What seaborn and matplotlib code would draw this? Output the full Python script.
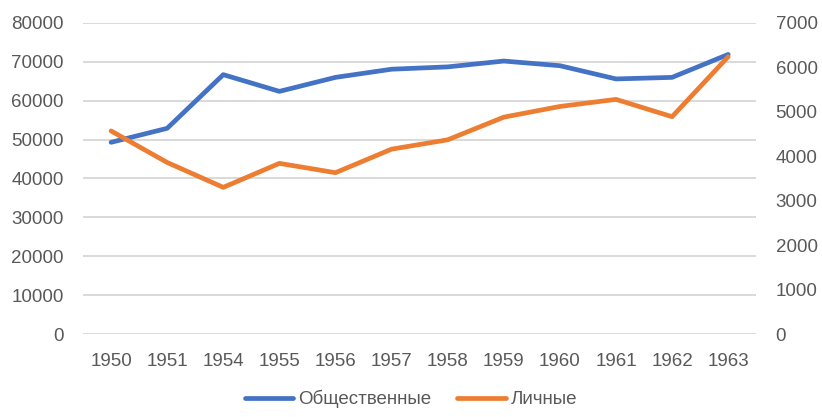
import matplotlib
matplotlib.use("Agg")
import matplotlib.pyplot as plt
import seaborn as sns
import pandas as pd

years = ["1950", "1951", "1954", "1955", "1956", "1957", "1958", "1959", "1960", "1961", "1962", "1963"]
public = [49300, 52900, 66700, 62400, 66000, 68100, 68700, 70200, 69000, 65600, 66000, 71900]
personal = [4570, 3860, 3300, 3840, 3630, 4160, 4370, 4880, 5120, 5280, 4890, 6240]
left_ticks = [0, 10000, 20000, 30000, 40000, 50000, 60000, 70000, 80000]
right_ticks = [0, 1000, 2000, 3000, 4000, 5000, 6000, 7000]
name_public = "Общественные"
name_personal = "Личные"

sns.set_style("white")
plt.rcParams['font.family'] = ['Liberation Sans', 'DejaVu Sans']

df = pd.DataFrame({"year": years, "public": public, "personal": personal})

fig = plt.figure(figsize=(8.22, 4.17), dpi=100)
ax = fig.add_axes([0.101, 0.199, 0.819, 0.746])
ax2 = ax.twinx()

blue = "#4472C4"
orange = "#ED7D31"
grey = "#595959"

sns.lineplot(data=df, x="year", y="public", ax=ax, color=blue, linewidth=3.4,
             label=name_public, legend=False, zorder=3)
sns.lineplot(data=df, x="year", y="personal", ax=ax2, color=orange, linewidth=3.4,
             label=name_personal, legend=False, zorder=3)

ax.set_xlim(-0.5, len(years) - 0.5)
ax.set_ylim(0, 80000)
ax2.set_ylim(0, 7000)
ax.set_yticks(left_ticks)
ax2.set_yticks(right_ticks)
ax.set_yticklabels([str(v) for v in left_ticks])
ax2.set_yticklabels([str(v) for v in right_ticks])

ax.grid(axis="y", color="#D9D9D9", linewidth=1.4)
ax.grid(axis="x", visible=False)
ax2.grid(False)
ax.set_axisbelow(True)
ax2.set_zorder(ax.get_zorder() + 1)
ax2.patch.set_visible(False)

fs = 13.5
for a in (ax, ax2):
    for s in a.spines.values():
        s.set_visible(False)
    a.set_xlabel("")
    a.set_ylabel("")
    a.tick_params(axis="both", length=0, labelsize=fs, labelcolor=grey)
ax.tick_params(axis="y", pad=14)
ax2.tick_params(axis="y", pad=14)
ax.tick_params(axis="x", pad=14)

h1, l1 = ax.get_legend_handles_labels()
h2, l2 = ax2.get_legend_handles_labels()
fig.legend(h1 + h2, l1 + l2, loc="lower center", bbox_to_anchor=(0.5, -0.02),
           ncol=2, frameon=False, fontsize=fs, labelcolor=grey,
           handlelength=2.6, handletextpad=0.25, columnspacing=1.4)

fig.savefig("out.png", dpi=100)
